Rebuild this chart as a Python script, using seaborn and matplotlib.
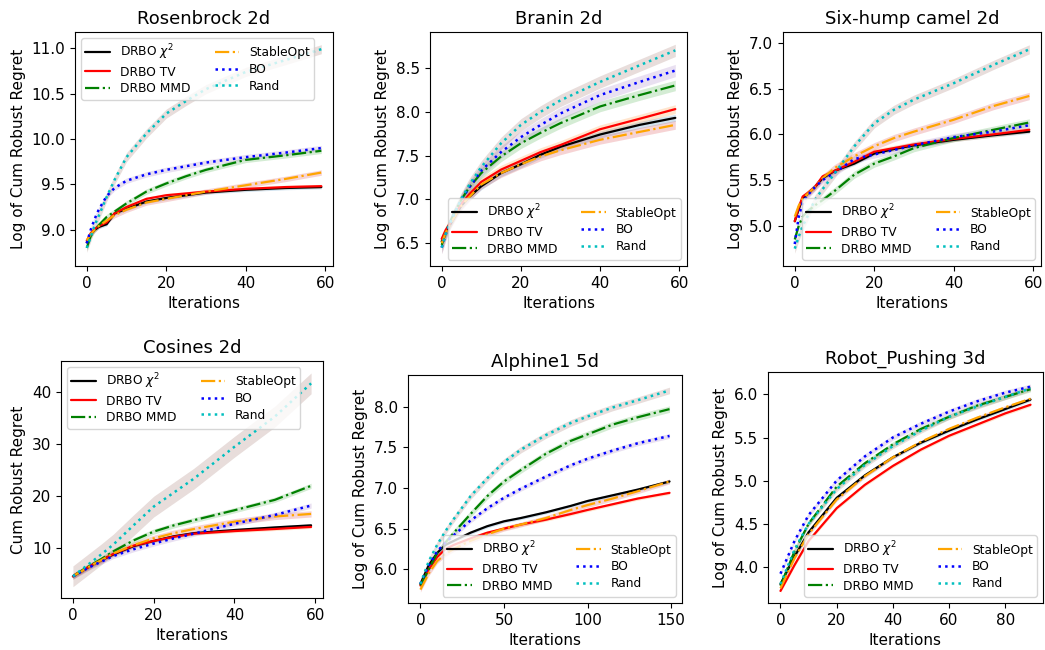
import matplotlib
matplotlib.use("Agg")
import matplotlib.pyplot as plt
import seaborn as sns

# series order: DRBO chi2, DRBO TV, DRBO MMD, StableOpt, BO, Rand
methods = [r"DRBO $\chi^2$", "DRBO TV", "DRBO MMD", "StableOpt", "BO", "Rand"]
line_colors = ["k", "r", "g", "orange", "b", "c"]
line_styles = ["-", "-", "-.", "-.", ":", ":"]
band_colors = ["tab:blue", "tab:orange", "tab:green", "tab:red", "tab:purple", "tab:brown"]

it60 = [0, 1, 2, 3, 5, 7, 10, 15, 20, 25, 30, 40, 50, 59]

rosen_chi2 = [8.86, 8.95, 9.00, 9.03, 9.06, 9.18, 9.23, 9.31, 9.35, 9.38, 9.41, 9.44, 9.46, 9.47]
rosen_tv = [8.88, 8.96, 9.01, 9.04, 9.08, 9.18, 9.25, 9.34, 9.38, 9.40, 9.42, 9.45, 9.47, 9.48]
rosen_mmd = [8.80, 8.93, 9.00, 9.05, 9.14, 9.20, 9.29, 9.42, 9.51, 9.59, 9.66, 9.77, 9.82, 9.87]
rosen_stable = [8.88, 8.95, 9.00, 9.04, 9.10, 9.16, 9.22, 9.30, 9.34, 9.38, 9.42, 9.49, 9.56, 9.63]
rosen_bo = [8.85, 9.00, 9.12, 9.22, 9.37, 9.46, 9.54, 9.61, 9.66, 9.70, 9.74, 9.80, 9.85, 9.90]
rosen_rand = [8.80, 8.92, 9.05, 9.15, 9.36, 9.55, 9.80, 10.06, 10.28, 10.42, 10.55, 10.74, 10.87, 10.99]
rosen_band = [0.02, 0.02, 0.03, 0.03, 0.03, 0.05]

branin_chi2 = [6.52, 6.63, 6.70, 6.78, 6.93, 7.03, 7.15, 7.30, 7.40, 7.51, 7.60, 7.74, 7.85, 7.93]
branin_tv = [6.55, 6.65, 6.72, 6.80, 6.95, 7.06, 7.20, 7.34, 7.44, 7.54, 7.62, 7.80, 7.92, 8.03]
branin_mmd = [6.48, 6.62, 6.73, 6.83, 7.00, 7.14, 7.30, 7.49, 7.64, 7.76, 7.87, 8.06, 8.19, 8.30]
branin_stable = [6.50, 6.62, 6.70, 6.78, 6.93, 7.03, 7.17, 7.30, 7.40, 7.49, 7.56, 7.68, 7.77, 7.85]
branin_bo = [6.45, 6.60, 6.72, 6.82, 7.00, 7.14, 7.33, 7.54, 7.71, 7.85, 7.98, 8.19, 8.34, 8.47]
branin_rand = [6.45, 6.60, 6.72, 6.82, 7.01, 7.17, 7.37, 7.64, 7.85, 8.00, 8.13, 8.34, 8.53, 8.70]
branin_band = [0.04, 0.05, 0.06, 0.05, 0.07, 0.07]

camel_chi2 = [5.05, 5.18, 5.30, 5.34, 5.42, 5.52, 5.60, 5.68, 5.79, 5.84, 5.88, 5.94, 5.99, 6.03]
camel_tv = [5.05, 5.20, 5.32, 5.35, 5.42, 5.54, 5.60, 5.70, 5.81, 5.85, 5.89, 5.95, 6.00, 6.05]
camel_mmd = [4.85, 5.00, 5.10, 5.15, 5.22, 5.28, 5.38, 5.56, 5.68, 5.76, 5.85, 5.96, 6.05, 6.13]
camel_stable = [5.10, 5.22, 5.30, 5.34, 5.42, 5.52, 5.63, 5.76, 5.87, 5.96, 6.03, 6.16, 6.31, 6.42]
camel_bo = [4.80, 5.10, 5.25, 5.32, 5.42, 5.50, 5.58, 5.73, 5.78, 5.83, 5.88, 5.97, 6.03, 6.10]
camel_rand = [4.75, 4.88, 5.00, 5.08, 5.28, 5.40, 5.57, 5.87, 6.12, 6.27, 6.38, 6.56, 6.76, 6.93]
camel_band = [0.02, 0.03, 0.04, 0.04, 0.04, 0.05]

cos_chi2 = [4.5, 5.0, 5.4, 5.9, 6.8, 7.6, 8.7, 10.3, 11.3, 12.2, 12.8, 13.4, 13.9, 14.3]
cos_tv = [4.5, 5.0, 5.4, 5.9, 6.8, 7.6, 8.8, 10.4, 11.3, 12.1, 12.7, 13.2, 13.6, 14.0]
cos_mmd = [4.5, 5.0, 5.5, 6.0, 6.9, 7.8, 9.3, 11.4, 13.1, 14.3, 15.3, 17.2, 19.2, 21.9]
cos_stable = [4.5, 5.0, 5.4, 5.9, 6.8, 7.6, 8.9, 10.5, 11.8, 12.8, 13.6, 15.0, 16.0, 16.5]
cos_bo = [4.5, 4.9, 5.4, 5.8, 6.6, 7.3, 8.4, 9.7, 10.8, 11.8, 12.7, 14.6, 16.3, 18.1]
cos_rand = [4.5, 5.1, 5.7, 6.3, 7.5, 8.7, 10.6, 14.3, 17.9, 20.6, 23.3, 29.4, 35.2, 41.6]
cos_band = [0.3, 0.3, 0.5, 0.6, 0.5, 2.0]

it150 = [0, 5, 10, 15, 20, 30, 40, 50, 60, 75, 90, 100, 115, 130, 149]
alp_chi2 = [5.82, 6.05, 6.20, 6.30, 6.35, 6.45, 6.53, 6.59, 6.63, 6.70, 6.78, 6.84, 6.91, 6.98, 7.08]
alp_tv = [5.80, 6.00, 6.15, 6.25, 6.30, 6.38, 6.45, 6.50, 6.55, 6.61, 6.68, 6.73, 6.80, 6.87, 6.94]
alp_mmd = [5.80, 6.00, 6.20, 6.33, 6.45, 6.68, 6.90, 7.08, 7.22, 7.42, 7.58, 7.66, 7.78, 7.87, 7.97]
alp_stable = [5.75, 5.95, 6.10, 6.19, 6.25, 6.35, 6.43, 6.50, 6.55, 6.63, 6.73, 6.79, 6.87, 6.96, 7.08]
alp_bo = [5.82, 6.05, 6.22, 6.33, 6.42, 6.60, 6.75, 6.88, 6.99, 7.14, 7.28, 7.36, 7.46, 7.55, 7.64]
alp_rand = [5.82, 6.10, 6.30, 6.47, 6.62, 6.90, 7.12, 7.32, 7.47, 7.65, 7.80, 7.88, 7.99, 8.08, 8.20]
alp_band = [0.02, 0.02, 0.04, 0.03, 0.03, 0.04]

it90 = [0, 5, 10, 20, 30, 40, 50, 60, 70, 80, 89]
robot_chi2 = [3.80, 4.12, 4.40, 4.80, 5.06, 5.27, 5.44, 5.58, 5.71, 5.83, 5.94]
robot_tv = [3.72, 4.02, 4.30, 4.68, 4.95, 5.17, 5.36, 5.52, 5.65, 5.78, 5.88]
robot_mmd = [3.78, 4.18, 4.50, 4.93, 5.20, 5.42, 5.60, 5.74, 5.87, 5.97, 6.06]
robot_stable = [3.75, 4.10, 4.38, 4.78, 5.05, 5.27, 5.45, 5.60, 5.73, 5.85, 5.95]
robot_bo = [3.92, 4.30, 4.60, 5.00, 5.28, 5.50, 5.66, 5.80, 5.92, 6.02, 6.09]
robot_rand = [3.80, 4.20, 4.50, 4.90, 5.18, 5.40, 5.58, 5.74, 5.86, 5.97, 6.07]
robot_band = [0.02, 0.02, 0.03, 0.02, 0.03, 0.03]

panels = [
    ("Rosenbrock 2d", it60, [rosen_chi2, rosen_tv, rosen_mmd, rosen_stable, rosen_bo, rosen_rand], rosen_band,
     "Log of Cum Robust Regret", (8.60, 11.18), [9.0, 9.5, 10.0, 10.5, 11.0], [0, 20, 40, 60], "upper left",
     [0.0718, 0.5908, 0.2469, 0.36]),
    ("Branin 2d", it60, [branin_chi2, branin_tv, branin_mmd, branin_stable, branin_bo, branin_rand], branin_band,
     "Log of Cum Robust Regret", (6.24, 8.91), [6.5, 7.0, 7.5, 8.0, 8.5], [0, 20, 40, 60], "lower right",
     [0.4115, 0.5908, 0.2459, 0.36]),
    ("Six-hump camel 2d", it60, [camel_chi2, camel_tv, camel_mmd, camel_stable, camel_bo, camel_rand], camel_band,
     "Log of Cum Robust Regret", (4.56, 7.12), [5.0, 5.5, 6.0, 6.5, 7.0], [0, 20, 40, 60], "lower right",
     [0.7493, 0.5908, 0.2469, 0.36]),
    ("Cosines 2d", it60, [cos_chi2, cos_tv, cos_mmd, cos_stable, cos_bo, cos_rand], cos_band,
     "Cum Robust Regret", (0.33, 45.9), [10, 20, 30, 40], [0, 20, 40, 60], "upper left",
     [0.0584, 0.08, 0.2507, 0.3646]),
    ("Alphine1 5d", it150, [alp_chi2, alp_tv, alp_mmd, alp_stable, alp_bo, alp_rand], alp_band,
     "Log of Cum Robust Regret", (5.585, 8.39), [6.0, 6.5, 7.0, 7.5, 8.0], [0, 50, 100, 150], "lower right",
     [0.3904, 0.0723, 0.2622, 0.3508]),
    ("Robot_Pushing 3d", it90, [robot_chi2, robot_tv, robot_mmd, robot_stable, robot_bo, robot_rand], robot_band,
     "Log of Cum Robust Regret", (3.58, 6.26), [4.0, 4.5, 5.0, 5.5, 6.0], [0, 20, 40, 60, 80], "lower right",
     [0.7349, 0.0723, 0.2632, 0.3554]),
]

sns.set_style("ticks", {"axes.edgecolor": "black", "xtick.color": "black", "ytick.color": "black",
                        "text.color": "black", "axes.labelcolor": "black"})
plt.rcParams["font.family"] = ["DejaVu Sans"]

fig = plt.figure(figsize=(10.45, 6.5), dpi=100)

for title, x, series, band, ylabel, ylim, yticks, xticks, loc, pos in panels:
    ax = fig.add_axes(pos)
    for i, y in enumerate(series):
        lo = [v - band[i] for v in y]
        hi = [v + band[i] for v in y]
        ax.fill_between(x, lo, hi, color=band_colors[i], alpha=0.2, linewidth=0)
    for i, y in enumerate(series):
        sns.lineplot(x=x, y=y, ax=ax, color=line_colors[i], linestyle=line_styles[i],
                     linewidth=1.8 if line_styles[i] == ":" else 1.6, label=methods[i])
    xmax = x[-1]
    ax.set_xlim(-0.05 * xmax, 1.05 * xmax)
    ax.set_ylim(*ylim)
    ax.set_yticks(yticks)
    ax.set_xticks(xticks)
    ax.tick_params(labelsize=11, direction="out")
    ax.set_title(title, fontsize=13)
    ax.set_xlabel("Iterations", fontsize=11)
    ax.set_ylabel(ylabel, fontsize=11)
    for s in ax.spines.values():
        s.set_visible(True)
    ax.legend(loc=loc, ncol=2, fontsize=8.8, handlelength=2.0, columnspacing=2.0,
              labelspacing=0.3, borderpad=0.35)

fig.savefig("out.png", dpi=100)
